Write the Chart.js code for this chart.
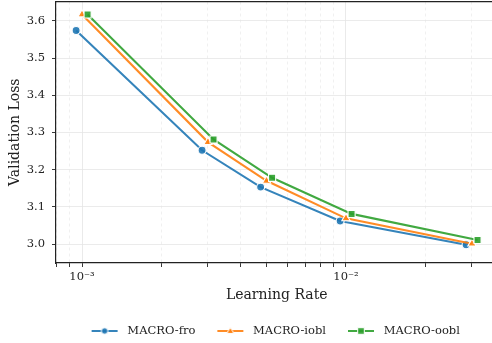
<!DOCTYPE html>
<html>
<head>
<meta charset="utf-8">
<script src="https://cdn.jsdelivr.net/npm/chart.js@4"></script>
<style>
  html, body { margin: 0; padding: 0; background: #fff; overflow: hidden; }
  #wrap { width: 492px; height: 343px; overflow: hidden; }
  canvas { display: block; }
</style>
</head>
<body>
<div id="wrap"><canvas id="lossChart" width="500" height="347"></canvas></div>
<script>
const FONT = "'DejaVu Serif', 'Liberation Serif', serif";

// learning rates swept, and per-series horizontal dodge so markers don't overlap
const learningRates = [0.001, 0.003, 0.005, 0.01, 0.03];
const dodge = { fro: 0.95, iobl: 1.0, oobl: 1.05 };

const lossFro = [3.574, 3.252, 3.153, 3.062, 2.998];
const lossIobl = [3.617, 3.274, 3.170, 3.069, 3.001];
const lossOobl = [3.617, 3.281, 3.178, 3.081, 3.011];

const seriesNames = ["MACRO-fro", "MACRO-iobl", "MACRO-oobl"];
const seriesColors = ["rgba(31, 119, 180, 0.9)", "rgba(255, 127, 14, 0.9)", "rgba(44, 160, 44, 0.9)"];
const seriesMarkers = ["circle", "triangle", "rect"];

const yTicks = [3.0, 3.1, 3.2, 3.3, 3.4, 3.5, 3.6];
const xMajorTicks = [0.001, 0.01];
const xMinorTicks = [0.0008, 0.0009, 0.002, 0.003, 0.004, 0.005, 0.006, 0.007, 0.008, 0.009, 0.02, 0.03];
const xTickLabels = { 0.001: "10\u207B\u00B3", 0.01: "10\u207B\u00B2" };

function isMajor(value) {
  return xMajorTicks.some((m) => Math.abs(m - value) / m < 1e-6);
}

function toPoints(values, factor) {
  return values.map((v, i) => ({ x: learningRates[i] * factor, y: v }));
}

// little "line + marker" icon for the legend
function legendIcon(color, marker) {
  const c = document.createElement("canvas");
  c.width = 34;
  c.height = 12;
  const g = c.getContext("2d");
  g.strokeStyle = color;
  g.lineWidth = 2;
  g.beginPath();
  g.moveTo(4, 6);
  g.lineTo(30, 6);
  g.stroke();
  g.fillStyle = color;
  g.strokeStyle = "#fff";
  g.lineWidth = 1;
  g.beginPath();
  if (marker === "circle") {
    g.arc(17, 6, 3.3, 0, Math.PI * 2);
  } else if (marker === "triangle") {
    g.moveTo(17, 2.2);
    g.lineTo(20.6, 8.6);
    g.lineTo(13.4, 8.6);
    g.closePath();
  } else {
    g.rect(13.7, 2.7, 6.6, 6.6);
  }
  g.fill();
  g.stroke();
  return c;
}

const lossSeries = [lossFro, lossIobl, lossOobl];
const dodgeFactors = [dodge.fro, dodge.iobl, dodge.oobl];
const markerSizes = [4, 4.8, 5];

const datasets = lossSeries.map((values, i) => ({
  label: seriesNames[i],
  data: toPoints(values, dodgeFactors[i]),
  borderColor: seriesColors[i],
  backgroundColor: seriesColors[i],
  pointBackgroundColor: seriesColors[i],
  pointBorderColor: "#ffffff",
  pointBorderWidth: 1.1,
  pointStyle: seriesMarkers[i],
  pointRadius: markerSizes[i],
  borderWidth: 2.1,
  tension: 0,
  fill: false,
  order: 2 - i,
}));

const shiftLegend = {
  id: "shiftLegend",
  afterLayout(chart) {
    if (chart.legend) {
      chart.legend.left += 25;
      chart.legend.right += 25;
    }
  },
};

new Chart(document.getElementById("lossChart"), {
  type: "line",
  data: { datasets },
  plugins: [shiftLegend],
  options: {
    responsive: false,
    animation: false,
    devicePixelRatio: 1,
    layout: { autoPadding: false, padding: { left: 0, right: 2.5, top: 1.5, bottom: 0.25 } },
    plugins: {
      tooltip: { enabled: false },
      legend: {
        position: "bottom",
        labels: {
          usePointStyle: true,
          pointStyleWidth: 34,
          padding: 18,
          color: "#222",
          font: { family: FONT, size: 11.5 },
          generateLabels: () => seriesNames.map((name, i) => ({
            text: name,
            pointStyle: legendIcon(seriesColors[i], seriesMarkers[i]),
            fillStyle: seriesColors[i],
            strokeStyle: seriesColors[i],
            lineWidth: 0,
            hidden: false,
            datasetIndex: i,
            fontColor: "#222",
          })),
        },
      },
    },
    scales: {
      x: {
        type: "logarithmic",
        min: Math.pow(10, -3.0985),
        max: Math.pow(10, -1.4261),
        afterBuildTicks: (scale) => {
          scale.ticks = xMinorTicks.concat(xMajorTicks).sort((a, b) => a - b).map((v) => ({ value: v }));
        },
        afterFit: (scale) => {
          scale.height = 44.25;
          scale.paddingLeft = 0;
          scale.paddingRight = 0;
        },
        ticks: {
          autoSkip: false,
          maxRotation: 0,
          padding: 3,
          color: "#222",
          font: { family: FONT, size: 11.5 },
          callback: (value) => (isMajor(value) ? xTickLabels[value] || "" : ""),
        },
        grid: {
          color: (ctx) => (ctx.tick && isMajor(ctx.tick.value) ? "#e4e4e4" : "#ededed"),
          lineWidth: 0.8,
          tickLength: 4,
          tickColor: "#222",
          tickWidth: 0.9,
          tickBorderDash: [],
        },
        border: {
          display: true,
          color: "#222",
          width: 1.2,
          dash: (ctx) => (ctx.tick && isMajor(ctx.tick.value) ? [] : [3, 3]),
        },
        title: {
          display: true,
          text: "Learning Rate",
          color: "#222",
          font: { family: FONT, size: 14 },
          padding: { top: 0, bottom: 3.85 },
        },
      },
      xTop: {
        type: "logarithmic",
        position: "top",
        min: Math.pow(10, -3.0985),
        max: Math.pow(10, -1.4261),
        afterFit: (scale) => {
          scale.height = 0;
          scale.paddingLeft = 0;
          scale.paddingRight = 0;
        },
        ticks: { display: false },
        grid: { drawOnChartArea: false, drawTicks: false },
        border: { display: true, color: "#222", width: 1.2 },
      },
      y: {
        min: 2.949,
        max: 3.652,
        afterBuildTicks: (scale) => {
          scale.ticks = yTicks.map((v) => ({ value: v }));
        },
        afterFit: (scale) => {
          scale.width = 56;
          scale.paddingTop = 0;
          scale.paddingBottom = 0;
        },
        ticks: {
          padding: 7,
          color: "#222",
          font: { family: FONT, size: 11.5 },
          callback: (value) => Number(value).toFixed(1),
        },
        grid: {
          color: "#e6e6e6",
          lineWidth: 0.8,
          tickLength: 4,
          tickColor: "#222",
          tickWidth: 0.9,
        },
        border: { display: true, color: "#222", width: 1.2 },
        title: {
          display: true,
          text: "Validation Loss",
          color: "#222",
          font: { family: FONT, size: 14 },
          padding: { top: 6.6, bottom: 4 },
        },
      },
    },
  },
});
</script>
</body>
</html>
